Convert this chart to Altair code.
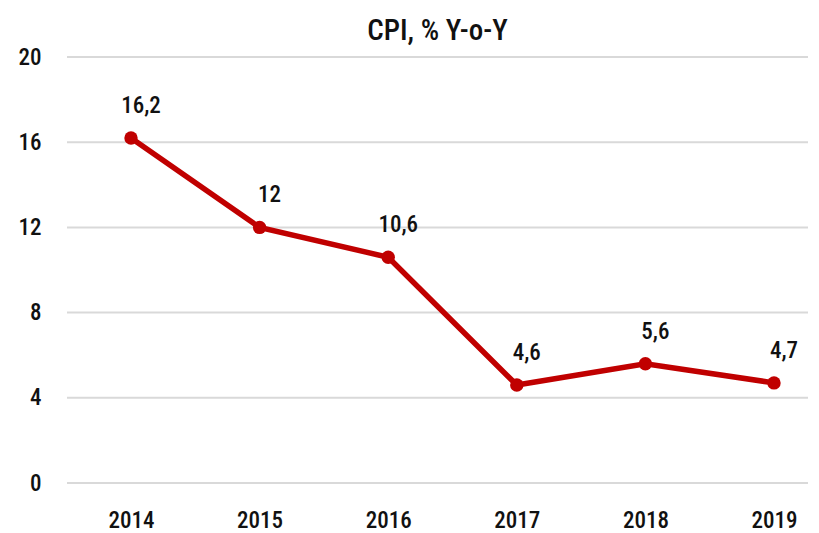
import altair as alt
import pandas as pd

years = ["2014", "2015", "2016", "2017", "2018", "2019"]
cpi = [16.2, 12.0, 10.6, 4.6, 5.6, 4.7]
labels = ["16,2", "12", "10,6", "4,6", "5,6", "4,7"]
y_ticks = [0, 4, 8, 12, 16, 20]

df = pd.DataFrame({"year": years, "cpi": cpi, "label": labels})
grid_df = pd.DataFrame({"v": y_ticks})

FONT = "'Roboto Condensed', 'Arial Narrow', 'Liberation Sans Narrow', 'DejaVu Sans Condensed', Roboto, sans-serif"
RED = "#C00000"
INK = "#111111"

yscale = alt.Scale(domain=[0, 20], nice=False)
yaxis = alt.Axis(values=y_ticks, domain=False, ticks=False, grid=False,
                 labelPadding=26, labelFontSize=23, labelFont=FONT,
                 labelFontWeight=500, labelColor=INK)

x = alt.X("year:N", sort=years, title=None,
          scale=alt.Scale(type="point", range=[64, 707], padding=0),
          axis=alt.Axis(labelAngle=0, domain=False, ticks=False, grid=False, labelPadding=26,
                        labelFontSize=23, labelFont=FONT, labelFontWeight=500,
                        labelColor=INK))
y = alt.Y("cpi:Q", title=None, scale=yscale, axis=yaxis)

grid = alt.Chart(grid_df).mark_rule(color="#d9d9d9", strokeWidth=2).encode(
    y=alt.Y("v:Q", title=None, scale=yscale, axis=yaxis),
    x=alt.value(0), x2=alt.value(741))

base = alt.Chart(df)
line = base.mark_line(color=RED, strokeWidth=5.5).encode(x=x, y=y)
pts = base.mark_point(filled=True, color=RED, size=180, opacity=1).encode(x=x, y=y)
txt = base.mark_text(dx=10, dy=-32, fontSize=23, font=FONT, fontWeight=500,
                     color=INK).encode(x=x, y=y, text="label:N")

chart = alt.layer(grid, line, pts, txt).properties(
    width=741, height=426,
    title=alt.TitleParams("CPI, % Y-o-Y", font=FONT, fontSize=29, fontWeight=500,
                          color=INK, anchor="middle", offset=0),
    autosize=alt.AutoSizeParams(type="none"),
    padding={"left": 59, "top": 49, "right": 3, "bottom": 50},
).configure_view(stroke=None)

chart.save("out.html", embed_options={"renderer": "svg", "actions": False})
